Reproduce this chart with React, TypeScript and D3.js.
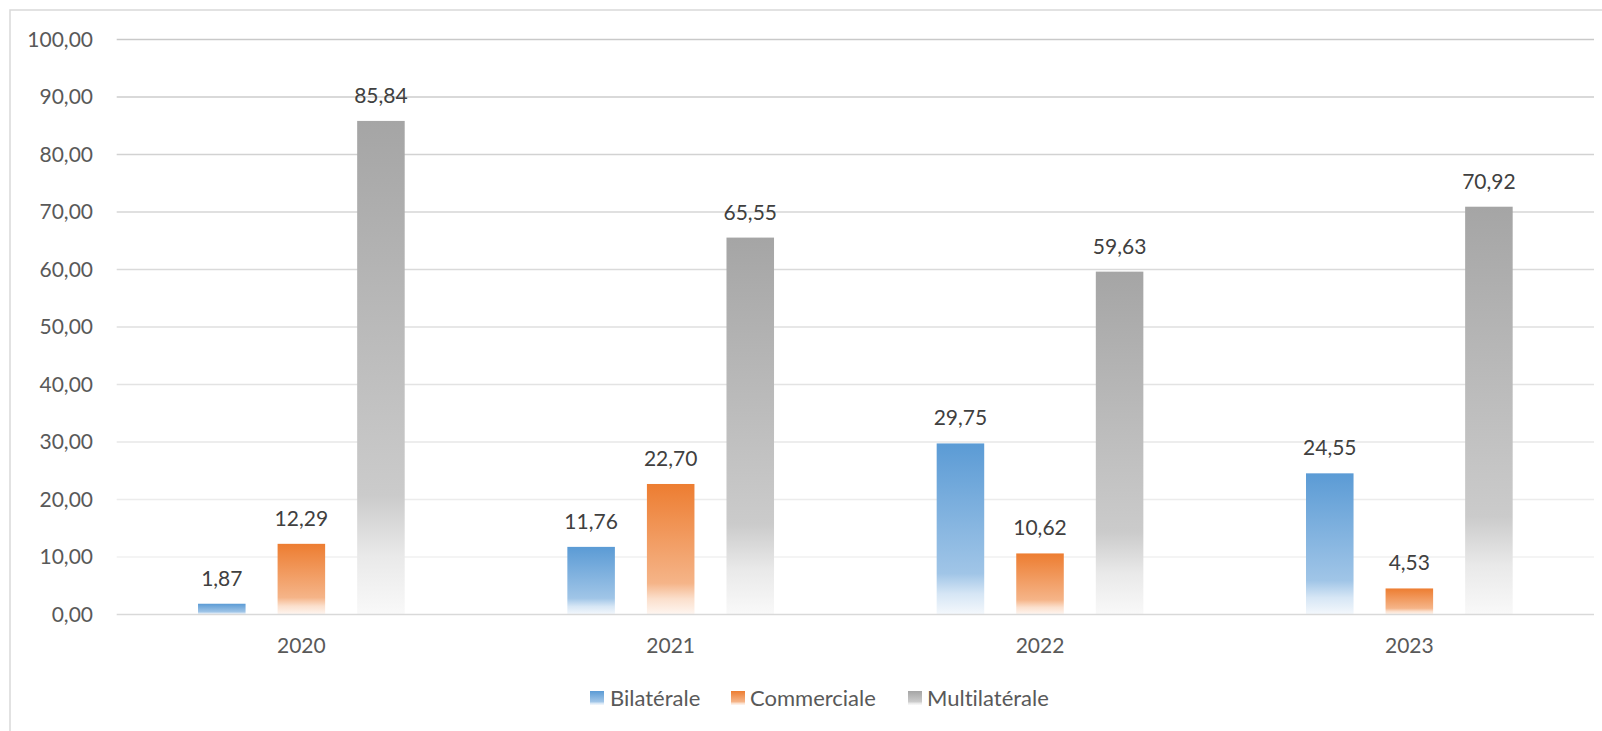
import React from "react";
import * as d3 from "d3";

const categories = ["2020", "2021", "2022", "2023"];
const seriesNames = ["Bilatérale", "Commerciale", "Multilatérale"];
const bilaterale = [1.87, 11.76, 29.75, 24.55];
const commerciale = [12.29, 22.7, 10.62, 4.53];
const multilaterale = [85.84, 65.55, 59.63, 70.92];
const yTicks = [0, 10, 20, 30, 40, 50, 60, 70, 80, 90, 100];
const seriesColors = ["#5b9bd5", "#ed7d31", "#a5a5a5"];

const W = 1602;
const H = 731;
const FONT = "Lato, 'Open Sans', sans-serif";

const fmt = (v: number) => v.toFixed(2).replace(".", ",");

export default function App() {
  const values = [bilaterale, commerciale, multilaterale];
  const x = d3.scaleBand<string>().domain(categories).range([116.7, 1594]).padding(0);
  const y = d3.scaleLinear().domain([0, 100]).range([614.5, 39.5]);
  const gridColor = d3.scaleLinear<string>().domain([10, 100]).range(["#f0f0f0", "#c9c9c9"]);
  const white = "#ffffff";
  const mix = (c: string, t: number) => d3.interpolateRgb(c, white)(t);

  const legendItems = [
    { x: 590, textX: 610 },
    { x: 731, textX: 750 },
    { x: 908, textX: 927 },
  ];

  return (
    <svg
      width={W}
      height={H}
      style={{ position: "absolute", left: 0, top: 0, background: "#fff", fontVariantLigatures: "none" }}
      fontFamily={FONT}
    >
      <defs>
        {seriesColors.map((c, i) => (
          <linearGradient key={i} id={`g${i}`} x1="0" y1="0" x2="0" y2="1">
            <stop offset="0" stopColor={c} />
            <stop offset="0.76" stopColor={mix(c, 0.42)} />
            <stop offset="0.88" stopColor={mix(c, 0.75)} />
            <stop offset="1" stopColor={mix(c, 0.93)} />
          </linearGradient>
        ))}
      </defs>
      <rect x={10} y={10} width={W} height={H} fill="#fff" stroke="#d9d9d9" strokeWidth={1.5} />
      {yTicks.map((t) => (
        <g key={t}>
          {t > 0 && (
            <line
              x1={116.7}
              x2={1594}
              y1={y(t)}
              y2={y(t)}
              stroke={gridColor(t)}
              strokeWidth={1.3}
            />
          )}
          <text
            x={93}
            y={y(t)}
            dy="0.35em"
            textAnchor="end"
            fontSize={21}
            fill="#595959"
          >
            {fmt(t)}
          </text>
        </g>
      ))}
      {categories.map((cat, ci) => {
        const cx = (x(cat) as number) + x.bandwidth() / 2;
        const inner = d3
          .scaleBand<string>()
          .domain(seriesNames)
          .range([cx - 119.25, cx + 119.25])
          .paddingInner(0.4025)
          .paddingOuter(0.2);
        return (
          <g key={cat}>
            {seriesNames.map((s, si) => {
              const v = values[si][ci];
              const bx = inner(s) as number;
              return (
                <g key={s}>
                  <rect
                    x={bx}
                    y={y(v)}
                    width={inner.bandwidth()}
                    height={y(0) - y(v)}
                    fill={`url(#g${si})`}
                  />
                  <text
                    x={bx + inner.bandwidth() / 2}
                    y={y(v) - 18}
                    textAnchor="middle"
                    fontSize={21}
                    fill="#404040"
                  >
                    {fmt(v)}
                  </text>
                </g>
              );
            })}
            <text x={cx} y={645.7} dy="0.35em" textAnchor="middle" fontSize={21} fill="#595959">
              {cat}
            </text>
          </g>
        );
      })}
      <line x1={116.7} x2={1594} y1={y(0)} y2={y(0)} stroke="#d9d9d9" strokeWidth={1.5} />
      {seriesNames.map((s, i) => (
        <g key={s}>
          <rect x={legendItems[i].x} y={691} width={14} height={14} fill={`url(#g${i})`} />
          <text x={legendItems[i].textX} y={698} dy="0.35em" fontSize={22} fill="#595959">
            {s}
          </text>
        </g>
      ))}
    </svg>
  );
}
